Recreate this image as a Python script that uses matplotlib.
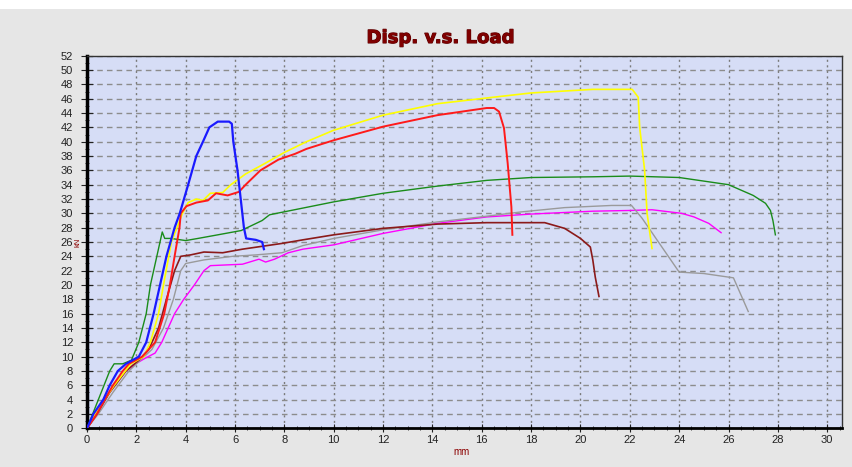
import numpy as np
import matplotlib
matplotlib.use("Agg")
import matplotlib.pyplot as plt
import matplotlib.patheffects as pe
from matplotlib.patches import Rectangle
from matplotlib.ticker import MultipleLocator

# ---------- data (mm, kN) ----------
blue_mm = [0, 0.26, 0.66, 0.92, 1.25, 1.58, 2.1, 2.4, 2.7, 2.96, 3.22, 3.55, 3.76, 4.1,
           4.43, 4.7, 4.96, 5.3, 5.76, 5.87, 5.93, 6.1, 6.23, 6.36, 6.45, 6.84, 7.1, 7.17]
blue_kn = [0, 2, 4, 6, 8, 9, 10, 12, 16, 20, 24, 28, 30, 34,
           38, 40, 42, 42.8, 42.8, 42.5, 40, 36, 32, 28, 26.5, 26.3, 26, 25]

red_mm = [0, 0.4, 0.72, 1.05, 1.45, 1.7, 2.24, 2.76, 3.13, 3.36, 3.55, 3.75, 3.8, 4.03,
          4.43, 4.9, 5.23, 5.7, 6.16, 6.43, 7.03, 7.76, 8.43, 8.9, 10.0, 12.0, 14.2,
          15.2, 16.2, 16.5, 16.7, 16.9, 17.05, 17.2, 17.24]
red_kn = [0, 2, 4, 6, 8, 9, 10, 12, 16, 20, 24, 28, 30, 31,
          31.5, 31.8, 32.8, 32.5, 33, 34, 36, 37.5, 38.3, 39, 40.2, 42.1, 43.7,
          44.2, 44.7, 44.7, 44.2, 41.9, 37, 30.9, 27]

yellow_mm = [0, 0.33, 1.1, 1.78, 2.3, 2.57, 2.9, 3.1, 3.42, 3.87, 4.1, 4.43, 4.7, 5.0,
             5.5, 5.83, 6.43, 7.23, 8.0, 8.9, 10.0, 12.0, 14.2, 16.2, 18.0, 20.5,
             22.1, 22.34, 22.4, 22.6, 22.7, 22.9]
yellow_kn = [0, 2, 6, 9, 10, 12, 16, 20, 26, 30, 31.5, 32, 31.8, 32.8,
             32.9, 34, 35.5, 37, 38.5, 40, 41.6, 43.7, 45.3, 46.1, 46.8, 47.3,
             47.3, 46.2, 42, 36, 30, 25.1]

green_mm = [0, 0.46, 0.92, 1.1, 1.45, 1.8, 2.1, 2.4, 2.57, 2.83, 3.05, 3.15, 3.4, 4.0,
            4.5, 5.3, 6.25, 7.1, 7.4, 10.0, 12.0, 14.2, 16.2, 18.0, 20.5, 22.0, 24.0,
            25.0, 26.0, 27.0, 27.5, 27.7, 27.8, 27.9]
green_kn = [0, 4, 8, 9, 9, 9.5, 12, 16, 20, 24, 27.4, 26.5, 26.5, 26.2,
            26.5, 27, 27.6, 29, 29.8, 31.6, 32.8, 33.8, 34.6, 35, 35.1, 35.2, 35,
            34.5, 34, 32.5, 31.4, 30.4, 29, 27]

maroon_mm = [0, 0.4, 0.92, 1.58, 2.1, 2.5, 2.9, 3.22, 3.55, 3.8, 4.2, 4.74, 5.5, 6.3,
             7.1, 7.9, 8.75, 10.0, 12.0, 14.2, 16.2, 18.55, 19.36, 20.0, 20.4, 20.5,
             20.6, 20.75]
maroon_kn = [0, 2, 5, 8, 9.5, 11, 14, 18, 22, 24, 24.2, 24.6, 24.5, 25,
             25.4, 25.8, 26.3, 27.0, 27.9, 28.5, 28.7, 28.7, 27.9, 26.5, 25.3, 23.5,
             21.1, 18.4]

gray_mm = [0, 0.46, 1.05, 1.7, 2.1, 2.63, 3.1, 3.5, 3.8, 4.0, 4.74, 5.9, 6.84, 7.9,
           8.75, 10.0, 12.0, 14.2, 16.2, 17.6, 19.36, 21.26, 22.07, 22.5, 24.0, 25.0,
           26.2, 26.8]
gray_kn = [0, 2, 5, 8, 9.3, 11, 14, 18, 22, 23, 23.5, 24, 24.2, 24.5,
           25.5, 26.5, 27.7, 28.8, 29.6, 30.2, 30.8, 31.1, 31.1, 29.3, 21.8, 21.6,
           21, 16.3]

magenta_mm = [0, 0.33, 0.72, 1.12, 1.58, 1.97, 2.37, 2.76, 3.03, 3.29, 3.55, 3.92, 4.35,
              4.74, 5.0, 6.3, 6.97, 7.24, 7.6, 8.16, 8.75, 10.0, 12.0, 14.2, 16.2,
              18.0, 20.5, 22.0, 22.9, 24.1, 24.6, 25.2, 25.7]
magenta_kn = [0, 2, 4, 6, 8, 9, 9.8, 10.5, 12, 14, 16, 18, 20,
              22, 22.7, 22.9, 23.6, 23.2, 23.6, 24.5, 25, 25.6, 27.2, 28.6, 29.5,
              29.9, 30.3, 30.4, 30.5, 30.0, 29.5, 28.6, 27.3]

#---------- figure ----------
plt.rcParams['font.family'] = ['Liberation Sans', 'DejaVu Sans']
fig = plt.figure(figsize=(8.52, 4.67), dpi=100, facecolor='white')
fig.patches.append(Rectangle((0, 0), 1, 1 - 9 / 467, transform=fig.transFigure,
                             facecolor='#e6e6e6', edgecolor='none', zorder=-10))

ax = fig.add_axes([87 / 852, 1 - 428.3 / 467, 755 / 852, (428.3 - 55.7) / 467])
ax.set_facecolor('#d6ddf6')

series = [
    (magenta_mm, magenta_kn, '#ff00ff', 1.0),
    (gray_mm, gray_kn, '#9a9a9a', 1.0),
    (maroon_mm, maroon_kn, '#8b1a1a', 1.2),
    (green_mm, green_kn, '#1a8c1a', 1.0),
    (yellow_mm, yellow_kn, '#ffff00', 1.2),
    (red_mm, red_kn, '#ff1a1a', 1.4),
    (blue_mm, blue_kn, '#1a1aff', 1.6),
]
for xs, ys, c, lw in series:
    ax.plot(xs, ys, color=c, lw=lw, zorder=3)

ax.set_xlim(0, 30.6)
ax.set_ylim(0, 52)
ax.xaxis.set_major_locator(MultipleLocator(2))
ax.xaxis.set_minor_locator(MultipleLocator(0.5))
ax.yaxis.set_major_locator(MultipleLocator(2))
ax.yaxis.set_minor_locator(MultipleLocator(1))

# vertical dotted, horizontal dashed grid
ax.grid(axis='x', which='major', color='#7a7a7a', ls=(0, (1.5, 2.5)), lw=1.0, zorder=1)
ax.grid(axis='y', which='major', color='#8c8c8c', ls=(0, (4, 3)), lw=1.0, zorder=1)

ax.tick_params(axis='y', which='major', labelsize=8, length=8, width=0.8,
               direction='inout', colors='#222222', pad=6)
ax.tick_params(axis='x', which='major', labelsize=8, length=6, width=0.8,
               direction='inout', colors='#222222', pad=2)
ax.tick_params(axis='both', which='minor', length=3, width=0.6, direction='inout',
               colors='#222222')

for side in ['top', 'right']:
    ax.spines[side].set_linewidth(1.0)
    ax.spines[side].set_color('#333333')
ax.spines['left'].set_linewidth(2.5)
ax.spines['bottom'].set_linewidth(2.0)
ax.spines['left'].set_color('black')
ax.spines['bottom'].set_color('black')

fig.text(440 / 852, 1 - 38 / 467, 'Disp. v.s. Load', ha='center', va='center',
         fontsize=13, fontweight='bold', color='#800000', family='DejaVu Sans',
         path_effects=[pe.withStroke(linewidth=0.8, foreground='#5a0000')])
fig.text(78 / 852, 1 - 242 / 467, 'kN', ha='center', va='center', rotation=90,
         fontsize=5.5, color='#8b0000')
fig.text(462 / 852, 1 - 452 / 467, 'mm', ha='center', va='center',
         fontsize=7, color='#8b0000')

fig.savefig('out.png', dpi=100, facecolor=fig.get_facecolor())
